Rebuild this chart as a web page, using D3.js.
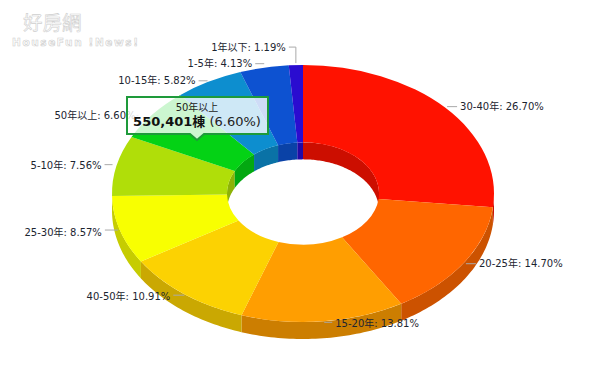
<!DOCTYPE html>
<html><head><meta charset="utf-8">
<script src="https://cdn.jsdelivr.net/npm/d3@7"></script>
<style>html,body{margin:0;padding:0;background:#fff}svg{display:block}text{font-family:"DejaVu Sans","Noto Sans CJK TC",sans-serif}</style>
</head><body><div id="c"></div>
<script>
const categories=["30-40年","20-25年","15-20年","40-50年","25-30年","5-10年","50年以上","10-15年","1-5年","1年以下"];
const shares=[26.70,14.70,13.81,10.91,8.57,7.56,6.60,5.82,4.13,1.19];
const colors=["#FF1200","#FF6600","#FF9E01","#FCD202","#F8FF01","#B0DE09","#04D215","#0D8ECF","#0D52D1","#2A0CD0"];
const labelLayout=[
 {x0:2,y0:-1,x1:12,ty:0,side:1},
 {x0:2,y0:1,x1:12,ty:0,side:1},
 {x0:1,y0:1,x1:9,ty:1,side:1},
 {x0:0,y0:1,x1:-11,ty:1,side:-1},
 {x0:-2,y0:0,x1:-15,ty:2,side:-1},
 {x0:-4,y0:-1,x1:-12,ty:1,side:-1},
 {x0:-16,y0:1,x1:-14,ty:0,side:-1},
 {x0:-1,y0:-1,x1:-10,ty:0,side:-1},
 {x0:0,y0:-4,x1:-9,ty:0,side:-1},
 {x0:0,y0:-2,x1:-7,ty:0,side:-1,up:16}
];
const W=600,H=379,cx=303,cy=193.5,rx=191,irx=76,squash=128.5/191,depth=17;
const svg=d3.select("#c").append("svg").attr("width",W).attr("height",H);
const data=categories.map((c,i)=>({c,v:shares[i],col:colors[i],lay:labelLayout[i]}));
const pie=d3.pie().value(d=>d.v).sort(null);
const arcs=pie(data);
const px=(r,a)=>cx+r*Math.sin(a), py=(r,a)=>cy-r*squash*Math.cos(a);
const line=d3.line();
function wall(r,a0,a1){
  const n=Math.max(2,Math.ceil((a1-a0)/0.02));
  const as=d3.range(n+1).map(i=>a0+(a1-a0)*i/n);
  const top=as.map(a=>[px(r,a),py(r,a)]);
  const bot=as.slice().reverse().map(a=>[px(r,a),py(r,a)+depth]);
  return line(top.concat(bot))+"Z";
}
const dark=c=>{const k=d3.rgb(c);return d3.rgb(k.r*.8,k.g*.8,k.b*.8).formatHex();};
const PI=Math.PI;
const walls=svg.append("g");
arcs.forEach(d=>{
  const clipI=[[d.startAngle,Math.min(d.endAngle,PI/2)],[Math.max(d.startAngle,1.5*PI),d.endAngle]];
  clipI.forEach(([a,b])=>{ if(b>a) walls.append("path").attr("d",wall(irx,a,b)).attr("fill",dark(d.data.col)); });
  const a=Math.max(d.startAngle,PI/2),b=Math.min(d.endAngle,1.5*PI);
  if(b>a) walls.append("path").attr("d",wall(rx,a,b)).attr("fill",dark(d.data.col));
});
const arc=d3.arc().innerRadius(irx).outerRadius(rx);
svg.append("g").attr("transform",`translate(${cx},${cy}) scale(1,${squash})`)
  .selectAll("path").data(arcs).join("path").attr("d",arc).attr("fill",d=>d.data.col);
const lg=svg.append("g");
arcs.forEach(d=>{
  const m=(d.startAngle+d.endAngle)/2,l=d.data.lay;
  const x=px(rx,m),y=py(rx,m);
  const pts=[[x+l.x0,y+l.y0]];
  const yy=y+l.y0-(l.up||0);
  if(l.up) pts.push([x+l.x0,yy]);
  pts.push([x+l.x1,yy]);
  lg.append("path").attr("d",line(pts)).attr("fill","none").attr("stroke","#aaa").attr("stroke-width",1);
  lg.append("text").attr("x",x+l.x1+l.side*3).attr("y",yy+l.ty+3.5)
    .attr("text-anchor",l.side>0?"start":"end").attr("font-size",10).attr("fill","#1c2530")
    .text(`${d.data.c}: ${d.data.v.toFixed(2)}%`);
});
const tipCat="50年以上",tipValue="550,401",tipUnit="棟",tipPct="(6.60%)";
const tip=svg.append("g");
tip.append("path").attr("d",line([[127,97],[268,97],[268,134],[204,134],[197,140],[190,134],[127,134]])+"Z")
  .attr("fill","#fff").attr("fill-opacity",.8).attr("stroke","#1E9A3A").attr("stroke-width",2);
tip.append("text").attr("x",197).attr("y",111).attr("text-anchor","middle").attr("font-size",10).attr("fill","#222").text(tipCat);
const t2=tip.append("text").attr("x",197).attr("y",125.5).attr("text-anchor","middle").attr("font-size",13).attr("fill","#222");
t2.append("tspan").attr("font-weight","bold").attr("fill","#111").text(tipValue+tipUnit);
t2.append("tspan").text(" "+tipPct);
const wm=svg.append("g").attr("fill","#fff").attr("stroke","#cfcfcf").attr("stroke-width",.6);
wm.append("text").attr("x",23).attr("y",30).attr("font-size",19.5).attr("font-family","Noto Sans CJK TC").text("好房網");
wm.append("text").attr("x",12).attr("y",45.5).attr("font-size",10.5).attr("font-weight","bold").attr("letter-spacing",1.6).text("HouseFun !News!");
</script></body></html>
